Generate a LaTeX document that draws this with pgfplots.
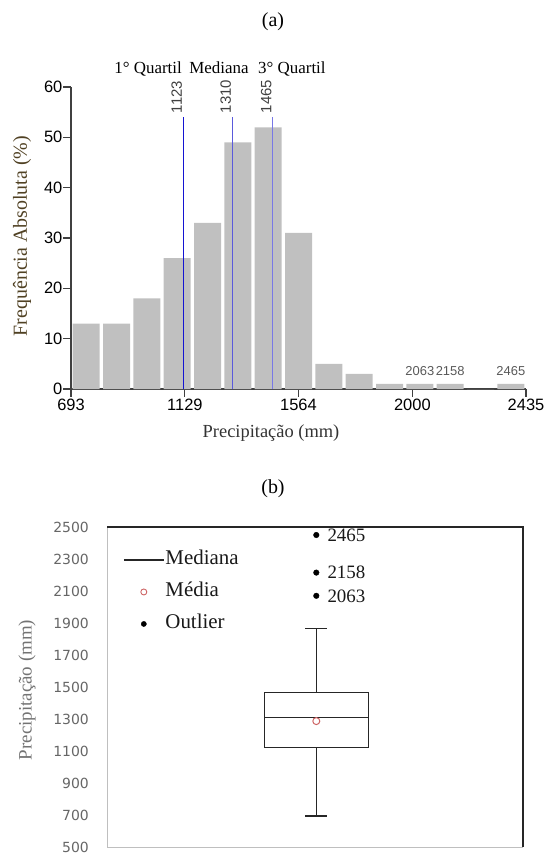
\documentclass[border=0pt]{standalone}
\usepackage{fontspec}
\setmainfont{Liberation Serif}
\newfontfamily\arialf{Liberation Sans}
\newfontfamily\dejavu{DejaVu Sans}
\usepackage{pgfplots}
\pgfplotsset{compat=1.18}
\definecolor{barc}{RGB}{192,192,192}
\definecolor{qone}{RGB}{20,20,210}
\definecolor{qmed}{RGB}{90,90,220}
\definecolor{qthree}{RGB}{120,120,230}
\definecolor{ylab}{RGB}{80,65,35}
\definecolor{meanc}{RGB}{205,100,100}
\pgfplotsset{
  linelegend/.style={legend image code/.code={\draw[##1] (0bp,0bp) -- (40bp,0bp);}},
  marklegend/.style={legend image code/.code={\draw[##1] plot coordinates {(20bp,0bp)};}},
}
\begin{document}
\begin{tikzpicture}
\path[use as bounding box] (0bp,0bp) rectangle (545bp,-854bp);
% ---------- (a) histogram ----------
\begin{axis}[
  at={(71bp,-389bp)}, anchor=south west,
  scale only axis, width=455bp, height=302bp,
  xmin=693, xmax=2435, ymin=0, ymax=60,
  axis lines*=left,
  axis line style={black!75, line width=1.2bp},
  every tick/.style={black!75, line width=1.2bp},
  tick align=outside, major tick length=7.5bp,
  xtick={693,1129,1564,2000,2435},
  ytick={0,10,20,30,40,50,60},
  /pgf/number format/assume math mode=true,
  /pgf/number format/1000 sep={},
  ticklabel style={font=\arialf\fontsize{16.5}{16.5}\selectfont, text=black},
  xticklabel style={inner sep=2.5bp},
  yticklabel style={inner sep=1bp},
  clip=false,
]
\addplot[ybar, bar width=27bp, fill=barc, draw=none] coordinates {
(751.07,13) (867.2,13) (983.3,18) (1099.5,26) (1215.6,33) (1331.7,49)
(1447.9,52) (1564.0,31) (1680.1,5) (1796.3,3) (1912.4,1) (2028.5,1)
(2144.7,1) (2260.8,0) (2376.9,1)};
\addplot[qone, line width=1bp] coordinates {(1123,0) (1123,54)};
\addplot[qmed, line width=1.1bp] coordinates {(1310,0) (1310,54)};
\addplot[qthree, line width=1.6bp] coordinates {(1465,0) (1465,54)};
\node[xshift=-1bp, yshift=4bp, rotate=90, anchor=south west, inner sep=0pt, font=\arialf\fontsize{15}{15}\selectfont, text=black!75] at (axis cs:1123,54) {1123};
\node[xshift=-1bp, yshift=4bp, rotate=90, anchor=south west, inner sep=0pt, font=\arialf\fontsize{15}{15}\selectfont, text=black!75] at (axis cs:1310,54) {1310};
\node[xshift=-1bp, yshift=4bp, rotate=90, anchor=south west, inner sep=0pt, font=\arialf\fontsize{15}{15}\selectfont, text=black!75] at (axis cs:1465,54) {1465};
\node[yshift=8bp, anchor=south, inner sep=0pt, font=\arialf\fontsize{13}{13}\selectfont, text=black!65] at (axis cs:2028.5,1) {2063};
\node[yshift=8bp, anchor=south, inner sep=0pt, font=\arialf\fontsize{13}{13}\selectfont, text=black!65] at (axis cs:2144.7,1) {2158};
\node[yshift=8bp, anchor=south, inner sep=0pt, font=\arialf\fontsize{13}{13}\selectfont, text=black!65] at (axis cs:2376.9,1) {2465};
\end{axis}
\node[font=\fontsize{20}{20}\selectfont] at (273bp,-22bp) {(a)};
\node[anchor=base east, inner sep=0pt, font=\fontsize{17}{17}\selectfont] at (182bp,-73bp) {1° Quartil};
\node[anchor=base, inner sep=0pt, font=\fontsize{17}{17}\selectfont] at (219bp,-73bp) {Mediana};
\node[anchor=base west, inner sep=0pt, font=\fontsize{17}{17}\selectfont] at (258bp,-73bp) {3° Quartil};
\node[rotate=90, font=\fontsize{20}{20}\selectfont, text=ylab] at (22bp,-236bp) {Frequência Absoluta (\%)};
\node[anchor=base, inner sep=0pt, font=\fontsize{18.5}{18.5}\selectfont, text=black!80] at (271bp,-437bp) {Precipitação (mm)};
% ---------- (b) boxplot ----------
\node[font=\fontsize{20}{20}\selectfont] at (273bp,-489bp) {(b)};
\begin{axis}[
  at={(107bp,-847bp)}, anchor=south west,
  scale only axis, width=416bp, height=320bp,
  xmin=0, xmax=416, ymin=500, ymax=2500,
  axis line style={draw=none},
  xtick=\empty, ytick={500,700,...,2500},
  major tick length=0pt,
  /pgf/number format/assume math mode=true,
  /pgf/number format/1000 sep={},
  yticklabel style={font=\dejavu\fontsize{14}{14}\selectfont, text=black!60, inner sep=0pt, xshift=-18bp, anchor=east},
  clip=false,
  legend style={draw=none, fill=none, at={(axis description cs:0.0385,0.932)}, anchor=north west,
    inner sep=0pt, row sep=10bp, font=\fontsize{21}{21}\selectfont, text=black!90,
    nodes={inner sep=1bp, text height=15bp, text depth=5bp}},
  legend cell align=left,
]
\draw[black!25, line width=1bp] (rel axis cs:0,1) -- (rel axis cs:0,0) -- (rel axis cs:1,0);
\draw[black!85, line width=1.2bp] (rel axis cs:0,1) -- (rel axis cs:1,1) -- (rel axis cs:1,0);
% box: lower quartile 1123, median 1310, upper quartile 1465; whiskers 693 and 1865
\addplot[forget plot, black!85, line width=1.5bp] coordinates {(157.3,1123) (261.3,1123) (261.3,1465) (157.3,1465) (157.3,1123) (261.3,1123)};
\addplot[forget plot, black!85, line width=1.5bp] coordinates {(157.3,1310) (261.3,1310)};
\addplot[forget plot, black!85, line width=1.5bp] coordinates {(209.3,1465) (209.3,1865)};
\addplot[forget plot, black!85, line width=1.5bp] coordinates {(209.3,1123) (209.3,693)};
\addplot[forget plot, black!85, line width=1.5bp] coordinates {(198.3,1865) (220.3,1865)};
\addplot[forget plot, black!85, line width=1.5bp] coordinates {(198.3,693) (220.3,693)};
\addplot[forget plot, only marks, mark=o, mark size=3.5bp, meanc, line width=1bp] coordinates {(209.3,1287)};
\addplot[forget plot, only marks, mark=*, mark size=2.8bp, black] coordinates {(209.3,2450) (209.3,2215) (209.3,2070)};
\node[xshift=11bp, anchor=west, inner sep=0pt, font=\fontsize{19}{19}\selectfont, text=black!90] at (axis cs:209.3,2450) {2465};
\node[xshift=11bp, anchor=west, inner sep=0pt, font=\fontsize{19}{19}\selectfont, text=black!90] at (axis cs:209.3,2215) {2158};
\node[xshift=11bp, anchor=west, inner sep=0pt, font=\fontsize{19}{19}\selectfont, text=black!90] at (axis cs:209.3,2070) {2063};
\addlegendimage{black!85, line width=1.2bp, linelegend}
\addlegendentry{Mediana}
\addlegendimage{only marks, mark=o, mark size=3bp, meanc, line width=0.9bp, marklegend}
\addlegendentry{Média}
\addlegendimage{only marks, mark=*, mark size=2.6bp, black, marklegend}
\addlegendentry{Outlier}
\end{axis}
\node[rotate=90, font=\fontsize{19}{19}\selectfont, text=black!55] at (27bp,-690bp) {Precipitação (mm)};
\end{tikzpicture}
\end{document}
